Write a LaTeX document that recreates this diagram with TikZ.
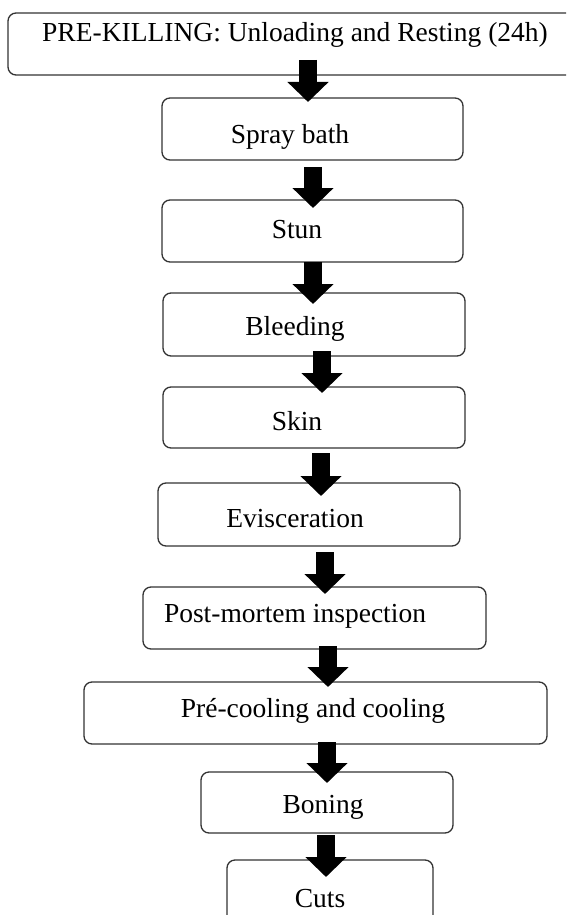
\documentclass[tikz,border=0pt]{standalone}
\usepackage{fontspec}
\setmainfont{Liberation Serif}
\usetikzlibrary{arrows.meta}
\begin{document}
\begin{tikzpicture}[x=1pt,y=-1pt,
  stepbox/.style={draw=black!80, line width=1.3pt, rounded corners=8pt},
  lbl/.style={anchor=base, inner sep=0pt, font=\fontsize{27.5}{32}\selectfont},
  flow/.style={line width=18pt, black, -{Triangle[length=20pt,width=40pt]}}]
\useasboundingbox (0,0) rectangle (566,915);
\clip (0,0) rectangle (566,915);
\fill[white] (0,0) rectangle (566,915);
% boxes
\node[stepbox, minimum width=567pt, minimum height=62pt] (b1) at (291.5,44) {};
\node[stepbox, minimum width=301pt, minimum height=62pt] (b2) at (312.5,129) {};
\node[stepbox, minimum width=301pt, minimum height=62pt] (b3) at (312.5,231) {};
\node[stepbox, minimum width=302pt, minimum height=63pt] (b4) at (314,324.5) {};
\node[stepbox, minimum width=302pt, minimum height=61pt] (b5) at (314,417.5) {};
\node[stepbox, minimum width=302pt, minimum height=63pt] (b6) at (309,514.5) {};
\node[stepbox, minimum width=343pt, minimum height=62pt] (b7) at (314.5,618) {};
\node[stepbox, minimum width=463pt, minimum height=62pt] (b8) at (315.5,713) {};
\node[stepbox, minimum width=252pt, minimum height=61pt] (b9) at (327,802.5) {};
\node[stepbox, minimum width=206pt, minimum height=65pt] (b10) at (330,892.5) {};
% labels
\node[lbl] (t1) at (295,42) {PRE-KILLING: Unloading and Resting (24h)};
\node[lbl] (t2) at (290,143) {Spray bath};
\node[lbl] (t3) at (297,238) {Stun};
\node[lbl] (t4) at (295,335) {Bleeding};
\node[lbl] (t5) at (297,430) {Skin};
\node[lbl] (t6) at (295,527) {Evisceration};
\node[lbl] (t7) at (295,622) {Post-mortem inspection};
\node[lbl] (t8) at (313,717) {Pré-cooling and cooling};
\node[lbl] (t9) at (323,813) {Boning};
\node[lbl] (t10) at (320,907) {Cuts};
% arrow end points
\coordinate (a1s) at (308,60);  \coordinate (a1e) at (308,102);
\coordinate (a2s) at (313,167); \coordinate (a2e) at (313,208);
\coordinate (a3s) at (313,262); \coordinate (a3e) at (313,304);
\coordinate (a4s) at (322,351); \coordinate (a4e) at (322,393);
\coordinate (a5s) at (321,453); \coordinate (a5e) at (321,496);
\coordinate (a6s) at (325,552); \coordinate (a6e) at (325,594);
\coordinate (a7s) at (328,646); \coordinate (a7e) at (328,687);
\coordinate (a8s) at (327,742); \coordinate (a8e) at (327,783);
\coordinate (a9s) at (326,835); \coordinate (a9e) at (326,877);
\foreach \i in {1,...,9} {\draw[flow] (a\i s) -- (a\i e);}
\end{tikzpicture}
\end{document}
